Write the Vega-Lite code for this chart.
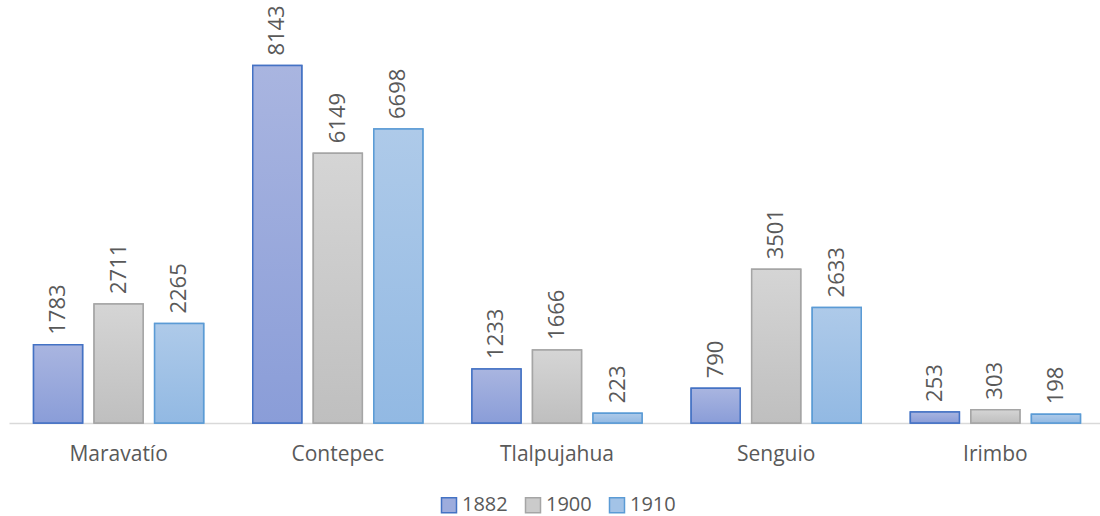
{
  "$schema": "https://vega.github.io/schema/vega-lite/v6.json",
  "width": 1096,
  "height": 395,
  "autosize": {"type": "none"},
  "padding": {"left": 9, "top": 28, "right": 0, "bottom": 93},
  "background": "white",
  "config": {"view": {"stroke": null}, "font": "Open Sans"},
  "data": {
    "values": [
      {"place": "Maravatío", "year": "1882", "value": 1783},
      {"place": "Maravatío", "year": "1900", "value": 2711},
      {"place": "Maravatío", "year": "1910", "value": 2265},
      {"place": "Contepec", "year": "1882", "value": 8143},
      {"place": "Contepec", "year": "1900", "value": 6149},
      {"place": "Contepec", "year": "1910", "value": 6698},
      {"place": "Tlalpujahua", "year": "1882", "value": 1233},
      {"place": "Tlalpujahua", "year": "1900", "value": 1666},
      {"place": "Tlalpujahua", "year": "1910", "value": 223},
      {"place": "Senguio", "year": "1882", "value": 790},
      {"place": "Senguio", "year": "1900", "value": 3501},
      {"place": "Senguio", "year": "1910", "value": 2633},
      {"place": "Irimbo", "year": "1882", "value": 253},
      {"place": "Irimbo", "year": "1900", "value": 303},
      {"place": "Irimbo", "year": "1910", "value": 198}
    ]
  },
  "encoding": {
    "x": {
      "field": "place", "type": "nominal", "sort": null,
      "scale": {"paddingInner": 0.224, "paddingOuter": 0.112},
      "axis": {"title": null, "labelAngle": 0, "labelFontSize": 21, "labelColor": "#595959", "labelPadding": 20, "ticks": false, "domainColor": "#d9d9d9", "domainWidth": 1.5}
    },
    "xOffset": {"field": "year", "type": "nominal", "scale": {"paddingInner": 0.19, "paddingOuter": 0}},
    "y": {
      "field": "value", "type": "quantitative",
      "scale": {"domain": [0, 9000]},
      "axis": null
    }
  },
  "layer": [
    {
      "mark": {"type": "bar", "strokeWidth": 1.5},
      "encoding": {
        "fill": {
          "field": "year", "type": "nominal",
          "scale": {"domain": ["1882", "1900", "1910"], "range": ["#9dacdd", "#cbcbcb", "#a3c3e7"]},
          "legend": {
            "title": null, "orient": "none", "legendX": 430, "legendY": 467, "direction": "horizontal",
            "labelFontSize": 20, "labelColor": "#595959", "symbolType": "square",
            "symbolSize": 225, "symbolStrokeWidth": 1.5, "columnPadding": 14, "labelOffset": 3
          }
        },
        "stroke": {
          "field": "year", "type": "nominal",
          "scale": {"domain": ["1882", "1900", "1910"], "range": ["#4472c4", "#a5a5a5", "#5b9bd5"]},
          "legend": {
            "title": null, "orient": "none", "legendX": 430, "legendY": 467, "direction": "horizontal",
            "labelFontSize": 20, "labelColor": "#595959", "symbolType": "square",
            "symbolSize": 225, "symbolStrokeWidth": 1.5, "columnPadding": 14, "labelOffset": 3
          }
        }
      }
    },
    {
      "mark": {"type": "bar", "strokeWidth": 1.5},
      "encoding": {
        "fill": {
          "condition": [
            {"test": "datum.year === '1882'", "value": {"gradient": "linear", "x1": 0, "y1": 0, "x2": 0, "y2": 1, "stops": [{"offset": 0, "color": "#a9b5e0"}, {"offset": 1, "color": "#8a9dd8"}]}},
            {"test": "datum.year === '1900'", "value": {"gradient": "linear", "x1": 0, "y1": 0, "x2": 0, "y2": 1, "stops": [{"offset": 0, "color": "#d5d5d5"}, {"offset": 1, "color": "#bfbfbf"}]}}
          ],
          "value": {"gradient": "linear", "x1": 0, "y1": 0, "x2": 0, "y2": 1, "stops": [{"offset": 0, "color": "#aecae9"}, {"offset": 1, "color": "#92b9e3"}]}
        },
        "stroke": {"field": "year", "type": "nominal"}
      }
    },
    {
      "mark": {"type": "text", "angle": 270, "align": "left", "baseline": "middle", "dx": 10, "fontSize": 22, "color": "#595959"},
      "encoding": {
        "text": {"field": "value", "type": "quantitative", "format": "d"}
      }
    }
  ]
}
